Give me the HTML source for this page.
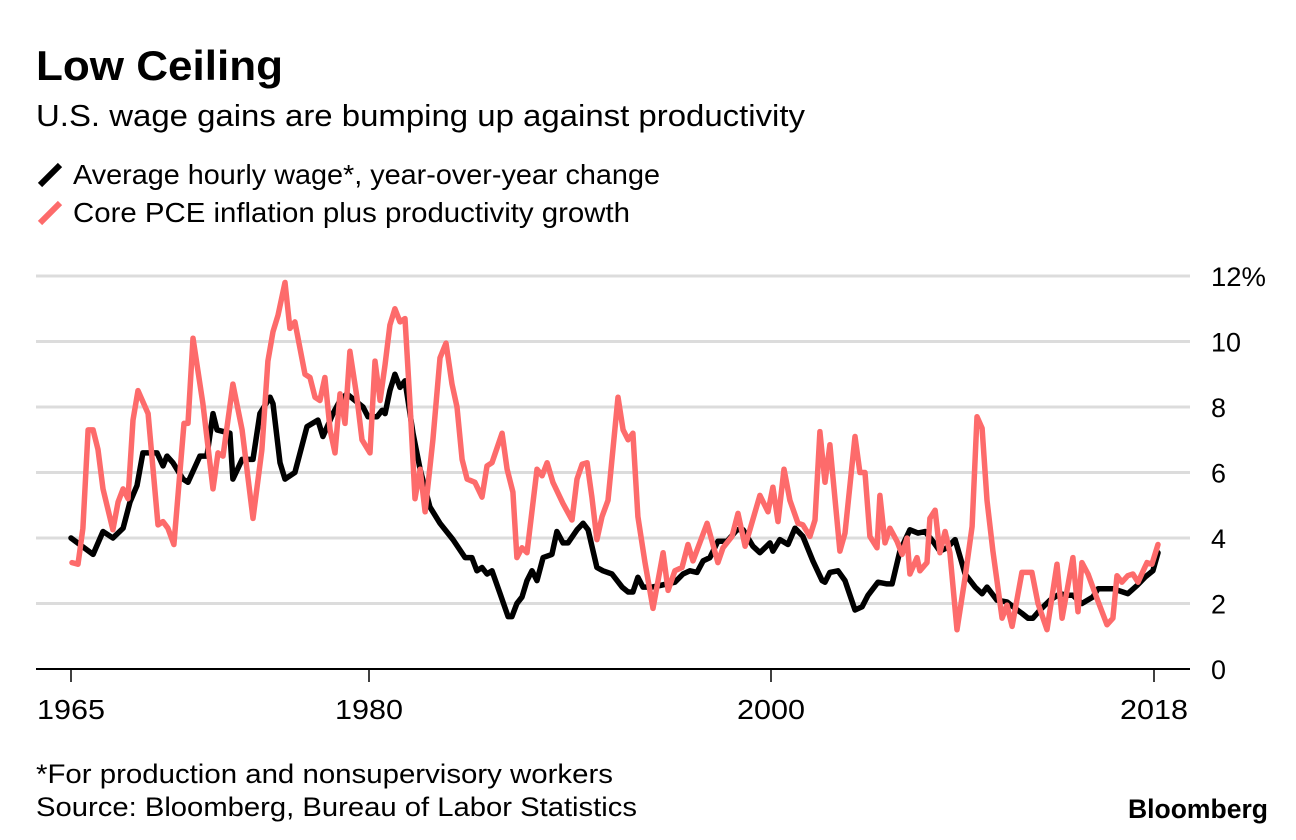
<!DOCTYPE html>
<html><head><meta charset="utf-8"><style>
html,body{margin:0;padding:0;background:#fff;}
svg{display:block;font-family:"Liberation Sans",sans-serif;}
</style></head><body>
<svg id="chart" width="1296" height="840" viewBox="0 0 1296 840" xmlns="http://www.w3.org/2000/svg">
<text x="36" y="80" font-size="42" font-weight="bold" textLength="247" lengthAdjust="spacingAndGlyphs">Low Ceiling</text>
<text x="36" y="126" font-size="31" textLength="769" lengthAdjust="spacingAndGlyphs">U.S. wage gains are bumping up against productivity</text>
<g>
<g><line x1="40" y1="185" x2="60" y2="165" stroke="#000" stroke-width="6"/>
<text x="73" y="184" font-size="28" textLength="587" lengthAdjust="spacingAndGlyphs">Average hourly wage*, year-over-year change</text></g>
<g><line x1="40" y1="223" x2="60" y2="203" stroke="#fd6b6b" stroke-width="6"/>
<text x="73" y="222" font-size="28" textLength="557" lengthAdjust="spacingAndGlyphs">Core PCE inflation plus productivity growth</text></g>
</g>
<g id="grid"></g>
<g id="yt"></g>
<g id="series"></g>
<g id="xt"></g>
<text x="36" y="783" font-size="27" textLength="577" lengthAdjust="spacingAndGlyphs">*For production and nonsupervisory workers</text>
<text x="36" y="816" font-size="27" textLength="601" lengthAdjust="spacingAndGlyphs">Source: Bloomberg, Bureau of Labor Statistics</text>
<text x="1128" y="818" font-size="27" font-weight="bold" textLength="140" lengthAdjust="spacingAndGlyphs">Bloomberg</text>
</svg>
<script>
const yTicks=[0,2,4,6,8,10,12];
const yTickLabels=["0","2","4","6","8","10","12%"];
const xTicks=[1965,1980,2000,2018];
const xTickLabels=["1965","1980","2000","2018"];
const wageYears=[1965.0,1966.11,1966.61,1967.11,1967.62,1967.97,1968.32,1968.62,1969.33,1969.63,1969.83,1970.13,1970.64,1970.89,1971.49,1971.84,1972.15,1972.35,1973.0,1973.15,1973.61,1974.16,1974.51,1975.02,1975.17,1975.52,1975.77,1976.27,1976.88,1977.43,1977.68,1978.19,1978.54,1978.89,1979.7,1979.95,1980.4,1980.65,1980.8,1981.04,1981.29,1981.54,1981.79,1982.19,1982.54,1983.03,1983.53,1984.18,1984.78,1985.12,1985.37,1985.62,1985.87,1986.12,1986.52,1986.92,1987.11,1987.36,1987.61,1987.86,1988.11,1988.36,1988.66,1989.1,1989.35,1989.65,1989.9,1990.35,1990.65,1990.9,1991.34,1991.64,1992.09,1992.59,1992.89,1993.13,1993.38,1993.63,1994.08,1994.48,1995.22,1995.62,1995.97,1996.32,1996.62,1996.96,1997.36,1997.81,1998.31,1998.61,1999.1,1999.45,1999.95,2000.09,2000.42,2000.8,2001.13,2001.5,2001.97,2002.4,2002.54,2002.77,2003.15,2003.48,2003.95,2004.28,2004.56,2005.03,2005.45,2005.69,2006.06,2006.53,2006.91,2007.24,2007.61,2007.94,2008.27,2008.65,2009.12,2009.59,2009.92,2010.15,2010.62,2011.09,2011.47,2011.79,2012.08,2012.31,2012.64,2013.11,2013.58,2013.91,2014.19,2014.61,2015.13,2015.37,2016.07,2016.54,2016.77,2017.2,2017.57,2017.95,2018.19];
const wageValues=[4.0,3.5,4.2,4.0,4.3,5.1,5.6,6.6,6.6,6.2,6.5,6.3,5.8,5.7,6.5,6.5,7.8,7.3,7.2,5.8,6.4,6.4,7.8,8.3,8.1,6.3,5.8,6.0,7.4,7.6,7.1,7.8,8.2,8.4,8.0,7.7,7.7,7.9,7.8,8.5,9.0,8.6,8.8,7.2,6.1,4.95,4.45,3.95,3.4,3.4,3.0,3.1,2.9,3.0,2.3,1.6,1.6,2.0,2.2,2.7,3.0,2.7,3.4,3.5,4.2,3.85,3.85,4.25,4.45,4.25,3.1,3.0,2.9,2.5,2.35,2.35,2.8,2.5,2.5,2.55,2.65,2.9,3.0,2.95,3.3,3.4,3.9,3.9,4.25,4.25,3.75,3.55,3.85,3.6,3.95,3.8,4.3,4.05,3.3,2.7,2.65,2.95,3.0,2.7,1.8,1.9,2.25,2.65,2.6,2.6,3.6,4.25,4.15,4.2,3.9,3.6,3.7,3.95,2.9,2.5,2.3,2.5,2.1,2.05,1.85,1.7,1.55,1.55,1.8,2.1,2.3,2.25,2.25,2.0,2.2,2.45,2.45,2.35,2.3,2.55,2.8,3.0,3.55];
const pceYears=[1965.05,1965.35,1965.6,1965.86,1966.11,1966.36,1966.61,1967.11,1967.37,1967.62,1967.87,1968.12,1968.37,1968.88,1969.38,1969.63,1969.88,1970.18,1970.69,1970.89,1971.14,1971.64,1972.15,1972.4,1972.65,1973.15,1973.61,1974.16,1974.61,1974.91,1975.17,1975.42,1975.77,1976.02,1976.27,1976.78,1977.03,1977.28,1977.53,1977.78,1978.04,1978.29,1978.54,1978.79,1979.04,1979.39,1979.65,1980.05,1980.3,1980.55,1980.8,1981.04,1981.29,1981.54,1981.79,1982.04,1982.29,1982.54,1982.79,1983.18,1983.53,1983.83,1984.13,1984.38,1984.63,1984.88,1985.27,1985.62,1985.87,1986.12,1986.62,1986.87,1987.16,1987.36,1987.61,1987.86,1988.36,1988.61,1988.86,1989.15,1989.65,1990.1,1990.35,1990.6,1990.85,1991.09,1991.34,1991.59,1991.89,1992.39,1992.64,1992.89,1993.13,1993.38,1993.73,1994.13,1994.63,1994.88,1995.22,1995.57,1995.87,1996.12,1996.82,1997.36,1997.61,1998.06,1998.36,1998.71,1999.45,1999.85,2000.09,2000.33,2000.61,2000.89,2001.27,2001.5,2001.83,2002.07,2002.3,2002.54,2002.77,2003.24,2003.48,2003.95,2004.18,2004.42,2004.65,2004.98,2005.12,2005.36,2005.59,2005.92,2006.16,2006.39,2006.53,2006.86,2007.0,2007.33,2007.47,2007.71,2007.94,2008.18,2008.41,2008.74,2009.12,2009.45,2009.68,2009.92,2010.15,2010.43,2010.86,2011.09,2011.33,2011.79,2012.26,2012.55,2012.97,2013.44,2013.68,2014.19,2014.43,2014.61,2014.9,2015.32,2015.79,2016.07,2016.26,2016.49,2016.77,2017.01,2017.25,2017.67,2017.9,2018.19];
const pceValues=[3.25,3.2,4.3,7.3,7.3,6.7,5.5,4.25,5.1,5.5,5.2,7.6,8.5,7.8,4.4,4.5,4.3,3.8,7.5,7.5,10.1,8.1,5.5,6.6,6.5,8.7,7.3,4.6,6.7,9.4,10.3,10.8,11.8,10.4,10.6,9.0,8.9,8.3,8.2,8.9,7.3,6.6,8.4,7.5,9.7,8.3,7.0,6.6,9.4,8.2,9.3,10.5,11.0,10.6,10.7,8.1,5.2,6.1,4.8,7.0,9.5,9.95,8.7,8.0,6.4,5.8,5.7,5.25,6.2,6.3,7.2,6.1,5.4,3.4,3.7,3.55,6.1,5.9,6.3,5.7,5.05,4.55,5.8,6.25,6.3,5.25,3.95,4.65,5.15,8.3,7.3,7.0,7.2,4.65,3.25,1.85,3.55,2.4,3.0,3.1,3.8,3.3,4.45,3.25,3.7,4.05,4.75,3.75,5.3,4.8,5.55,4.5,6.1,5.15,4.45,4.4,4.05,4.55,7.25,5.7,6.85,3.6,4.15,7.1,6.0,6.0,4.05,3.7,5.3,3.85,4.3,3.9,3.5,4.0,2.9,3.4,3.0,3.25,4.6,4.85,3.55,4.2,3.55,1.2,2.8,4.35,7.7,7.35,5.15,3.6,1.55,1.95,1.3,2.95,2.95,2.0,1.2,3.2,1.55,3.4,1.75,3.25,2.9,2.15,1.35,1.55,2.85,2.65,2.85,2.9,2.65,3.25,3.2,3.8];

const NS="http://www.w3.org/2000/svg";
const xDom=[1965,1980,2000,2018], xRng=[71,369,771,1154];
function xScale(t){let i=0;while(i<xDom.length-2&&t>xDom[i+1])i++;return xRng[i]+(t-xDom[i])*(xRng[i+1]-xRng[i])/(xDom[i+1]-xDom[i]);}
function yScale(v){return 669-v*32.75;}
function mk(tag,attrs,parent){const e=document.createElementNS(NS,tag);for(const k in attrs)e.setAttribute(k,attrs[k]);parent.appendChild(e);return e;}
const grid=document.getElementById('grid'),yt=document.getElementById('yt');
yTicks.forEach((v,i)=>{
  if(v>0){const g=mk('line',{x1:36,x2:1190,y1:yScale(v),y2:yScale(v),stroke:'#dcdcdc','stroke-width':3},grid);
  
  }
  const w=yTickLabels[i].length===3?55:(yTickLabels[i].length===2?30:15);
  const t=mk('text',{x:1211,y:yScale(v)+10,'font-size':27,textLength:w,lengthAdjust:'spacingAndGlyphs'},yt);
  t.textContent=yTickLabels[i];
  
  
});
const ser=document.getElementById('series');
function line(years,vals,color,name){
  const d=years.map((t,i)=>(i?'L':'M')+xScale(t).toFixed(1)+','+yScale(vals[i]).toFixed(1)).join(' ');
  const p=mk('path',{d:d,fill:'none',stroke:color,'stroke-width':5.5,'stroke-linejoin':'round','stroke-linecap':'round'},ser);
  
  
}
line(wageYears,wageValues,'#000','wage-line');
line(pceYears,pceValues,'#fd6b6b','pce-productivity-line');
const xt=document.getElementById('xt');
const ax=mk('line',{x1:36,x2:1190,y1:669,y2:669,stroke:'#000','stroke-width':2},xt);


xTicks.forEach((t,i)=>{
  const x=xScale(t);
  const tk=mk('line',{x1:x,x2:x,y1:669,y2:682,stroke:'#000','stroke-width':1.5},xt);
  
  
  const lb=mk('text',{x:x,y:719,'font-size':28,'text-anchor':'middle',textLength:68,lengthAdjust:'spacingAndGlyphs'},xt);
  lb.textContent=xTickLabels[i];
  
  
});
</script>
</body></html>
